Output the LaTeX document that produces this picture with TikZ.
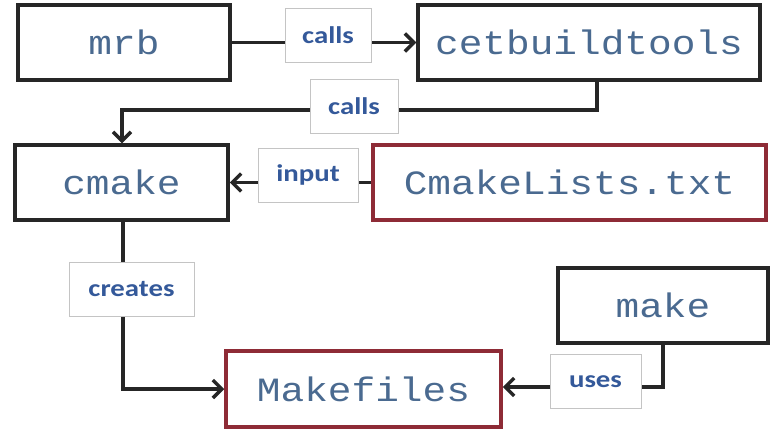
\documentclass[tikz,border=0pt]{standalone}
\usepackage{fontspec}
\usetikzlibrary{arrows.meta}
\newfontfamily\boxfont[FakeStretch=1.16]{Liberation Mono}
\newfontfamily\labfont[FakeStretch=1.2]{Carlito}
\definecolor{txtblue}{HTML}{4A6A90}
\definecolor{labblue}{HTML}{34599A}
\definecolor{boxdark}{HTML}{262626}
\definecolor{boxred}{HTML}{8E2B36}
\definecolor{labgrey}{HTML}{C4C4C4}
\tikzset{
  toolbox/.style={draw=boxdark, line width=3.5pt, fill=white, text=txtblue,
    font=\boxfont\fontsize{34}{36}\selectfont, inner sep=0pt},
  filebox/.style={toolbox, draw=boxred},
  lab/.style={draw=labgrey, line width=0.8pt, fill=white, text=labblue,
    font=\labfont\bfseries\fontsize{24}{26}\selectfont, inner sep=0pt, minimum height=54pt},
  conn/.style={draw=boxdark, line width=3.5pt},
  arr/.style={conn, -{Straight Barb[length=9pt,width=18pt,line width=3.5pt]}}
}
\begin{document}
\begin{tikzpicture}[x=1pt,y=-1pt]
\useasboundingbox[fill=white] (0,0) rectangle (771,431);
% boxes
\node[toolbox, minimum width=212pt, minimum height=75pt] (mrb) at (124,42.5) {mrb};
\node[toolbox, minimum width=342pt, minimum height=75pt] (cet) at (589,42.5) {cetbuildtools};
\node[toolbox, minimum width=213pt, minimum height=75pt] (cmake) at (121.5,182.5) {cmake};
\node[filebox, minimum width=393pt, minimum height=75pt] (cml) at (569.5,182.5) {CmakeLists.txt};
\node[toolbox, minimum width=210pt, minimum height=75pt] (make) at (663,305.5) {make};
\node[filebox, minimum width=275pt, minimum height=76pt] (mkf) at (363.5,389) {Makefiles};
% bend points
\coordinate (k1) at (597,110);
\coordinate (k2) at (122,110);
\coordinate (k3) at (123,389);
\coordinate (k4) at (663,387);
% connectors
\draw[arr] (mrb) -- (cet);
\draw[arr] (cet.south -| k1) -- (k1) -- (k2) -- (cmake.north -| k2);
\draw[arr] (cml) -- (cmake);
\draw[arr] (cmake.south -| k3) -- (k3) -- (mkf.west |- k3);
\draw[arr] (make.south -| k4) -- (k4) -- (mkf.east |- k4);
% labels
\node[lab, minimum width=86pt] (l1) at (328,35) {calls};
\node[lab, minimum width=88pt] (l2) at (354,106.5) {calls};
\node[lab, minimum width=100pt] (l3) at (308,175) {input};
\node[lab, minimum width=125pt] (l4) at (131.5,289) {creates};
\node[lab, minimum width=91pt] (l5) at (595.5,381.5) {uses};
\end{tikzpicture}
\end{document}
